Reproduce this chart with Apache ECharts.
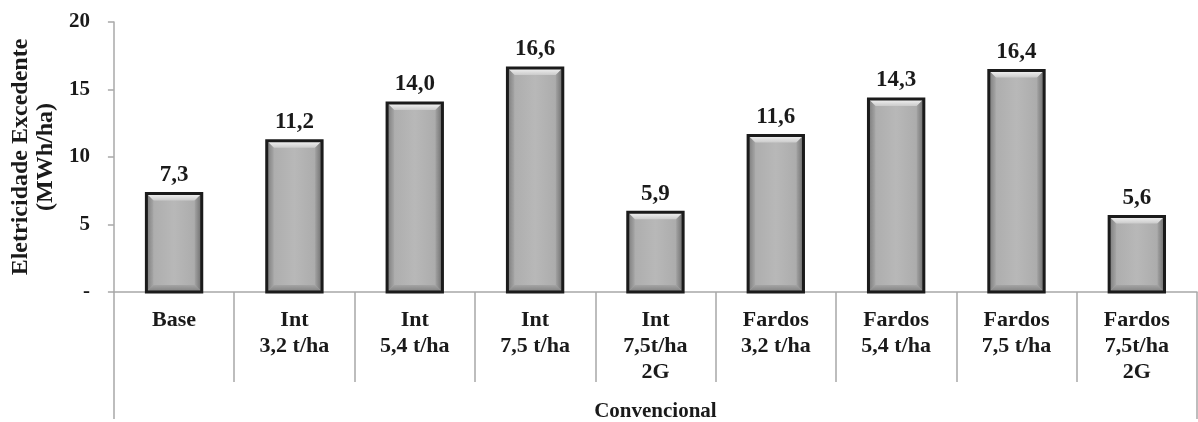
<!DOCTYPE html>
<html>
<head>
<meta charset="utf-8">
<title>Eletricidade Excedente</title>
<script src="https://cdn.jsdelivr.net/npm/echarts@6/dist/echarts.min.js"></script>
<style>
  html, body { margin: 0; padding: 0; background: #fff; }
  #chart { width: 1198px; height: 422px; }
</style>
</head>
<body>
<div id="chart"></div>
<script>
// Scenario labels (one per bar) and the group they belong to
const categories = [
  'Base',
  'Int\n3,2 t/ha',
  'Int\n5,4 t/ha',
  'Int\n7,5 t/ha',
  'Int\n7,5t/ha\n2G',
  'Fardos\n3,2 t/ha',
  'Fardos\n5,4 t/ha',
  'Fardos\n7,5 t/ha',
  'Fardos\n7,5t/ha\n2G'
];
const groups = ['Convencional'];

// Surplus electricity, MWh/ha
const values = [7.3, 11.2, 14.0, 16.6, 5.9, 11.6, 14.3, 16.4, 5.6];

// Value axis range and step
const yMin = 0;
const yMax = 20;
const yStep = 5;

const FONT = '"Liberation Serif", "Times New Roman", serif';
const AXIS_GREY = '#a8a8a8';
const TEXT = '#1a1a1a';

const fmt = v => v.toFixed(1).replace('.', ',');

// Bevelled bar: body, four bevel faces, dark outline and the value on top
function renderBar(params, api) {
  const idx = api.value(0);
  const val = api.value(1);
  const topPt = api.coord([idx, val]);
  const basePt = api.coord([idx, 0]);
  const bw = api.size([1, 0])[0] * 0.46;
  const x = topPt[0] - bw / 2;
  const y = topPt[1];
  const h = basePt[1] - topPt[1];
  const b = Math.min(7, h / 3);
  const G = echarts.graphic.LinearGradient;

  return {
    type: 'group',
    children: [
      { type: 'rect', shape: { x: x, y: y, width: bw, height: h },
        style: { fill: new G(0, 0, 1, 0, [
          { offset: 0, color: '#aaaaaa' },
          { offset: 0.5, color: '#b8b8b8' },
          { offset: 1, color: '#a8a8a8' }]) } },
      { type: 'polygon', shape: { points: [[x, y], [x + bw, y], [x + bw - b, y + b], [x + b, y + b]] },
        style: { fill: new G(0, 0, 0, 1, [
          { offset: 0, color: '#f6f6f6' },
          { offset: 1, color: '#cbcbcb' }]) } },
      { type: 'polygon', shape: { points: [[x, y], [x + b, y + b], [x + b, y + h - b], [x, y + h]] },
        style: { fill: new G(0, 0, 1, 0, [
          { offset: 0, color: '#7a7a7a' },
          { offset: 1, color: '#a6a6a6' }]) } },
      { type: 'polygon', shape: { points: [[x + bw, y], [x + bw, y + h], [x + bw - b, y + h - b], [x + bw - b, y + b]] },
        style: { fill: new G(0, 0, 1, 0, [
          { offset: 0, color: '#a2a2a2' },
          { offset: 1, color: '#6c6c6c' }]) } },
      { type: 'polygon', shape: { points: [[x, y + h], [x + bw, y + h], [x + bw - b, y + h - b], [x + b, y + h - b]] },
        style: { fill: new G(0, 0, 0, 1, [
          { offset: 0, color: '#a4a4a4' },
          { offset: 1, color: '#7e7e7e' }]) } },
      { type: 'rect', shape: { x: x, y: y, width: bw, height: h },
        style: { fill: 'none', stroke: '#1b1b1b', lineWidth: 3 } },
      { type: 'text',
        style: { text: fmt(val), x: topPt[0], y: y - 7,
          align: 'center', verticalAlign: 'bottom',
          font: 'bold 23px ' + FONT, fill: TEXT } }
    ]
  };
}

const chart = echarts.init(document.getElementById('chart'), null, { renderer: 'canvas' });

chart.setOption({
  backgroundColor: '#ffffff',
  animation: false,
  grid: { left: 113, right: 1, top: 22, bottom: 128, containLabel: false },
  xAxis: [
    {
      type: 'category',
      data: categories,
      position: 'bottom',
      axisLine: { show: true, lineStyle: { color: AXIS_GREY, width: 1.5 } },
      axisTick: { show: true, interval: 0, length: 90, lineStyle: { color: AXIS_GREY, width: 1.5 } },
      axisLabel: {
        interval: 0, margin: 15,
        fontFamily: FONT, fontWeight: 'bold', fontSize: 22, lineHeight: 26, color: TEXT
      },
      splitLine: { show: false }
    },
    {
      type: 'category',
      data: groups,
      position: 'bottom',
      offset: 0,
      axisLine: { show: false },
      axisTick: { show: true, length: 127, lineStyle: { color: AXIS_GREY, width: 1.5 } },
      axisLabel: {
        margin: 109,
        fontFamily: FONT, fontWeight: 'bold', fontSize: 21, color: TEXT
      },
      splitLine: { show: false }
    }
  ],
  yAxis: {
    type: 'value',
    min: yMin,
    max: yMax,
    interval: yStep,
    name: 'Eletricidade Excedente\n(MWh/ha)',
    nameLocation: 'middle',
    nameGap: 55,
    nameTextStyle: { fontFamily: FONT, fontWeight: 'bold', fontSize: 24, lineHeight: 25, color: TEXT },
    axisLine: { show: true, lineStyle: { color: AXIS_GREY, width: 1.5 } },
    axisTick: { show: true, length: 6, lineStyle: { color: AXIS_GREY, width: 1.5 } },
    axisLabel: {
      margin: 24,
      fontFamily: FONT, fontWeight: 'bold', fontSize: 21, color: TEXT,
      formatter: v => (v === 0 ? '-' : String(v))
    },
    splitLine: { show: false }
  },
  series: [
    {
      type: 'custom',
      xAxisIndex: 0,
      yAxisIndex: 0,
      renderItem: renderBar,
      encode: { x: 0, y: 1 },
      data: values.map((v, i) => [i, v]),
      clip: false
    }
  ]
});
</script>
</body>
</html>
